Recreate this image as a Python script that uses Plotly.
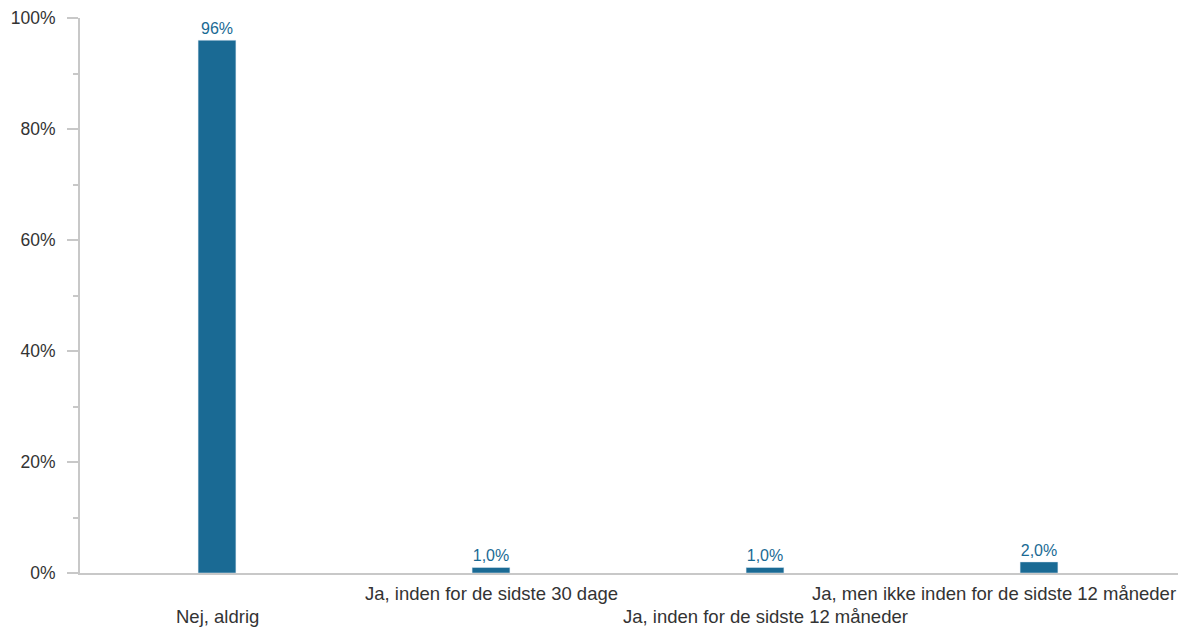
import plotly.graph_objects as go

categories = ["Nej, aldrig", "Ja, inden for de sidste 30 dage",
              "Ja, inden for de sidste 12 måneder", "Ja, men ikke inden for de sidste 12 måneder"]
values = [0.96, 0.01, 0.01, 0.02]
value_labels = ["96%", "1,0%", "1,0%", "2,0%"]
label_row = [1, 0, 1, 0]          # 0 = upper row, 1 = lower row (staggered labels)
label_shift = [0, 0, 0, -45]      # keep the last label inside the canvas

BAR = "#1a6a94"
AXIS = "#c8c8c8"
TEXT = "#333333"
FONT = "Liberation Sans, Arial, sans-serif"

fig = go.Figure(go.Bar(
    x=categories, y=values, text=value_labels, textposition="outside",
    textfont=dict(size=16, color=BAR, family=FONT), marker_color=BAR,
    cliponaxis=False, hoverinfo="skip",
))

for cat, row, sh in zip(categories, label_row, label_shift):
    fig.add_annotation(x=cat, xref="x", y=0, yref="paper", text=cat, showarrow=False,
                       xanchor="center", yanchor="middle", yshift=-20 - 23 * row, xshift=sh,
                       font=dict(size=18.5, color=TEXT, family=FONT))

fig.update_layout(
    width=1189, height=628, margin=dict(l=80, r=11, t=18, b=55),
    plot_bgcolor="white", paper_bgcolor="white", bargap=0.862, showlegend=False,
    font=dict(family=FONT, color=TEXT),
)
fig.update_xaxes(showticklabels=False, showline=True, linecolor=AXIS, linewidth=2,
                 ticks="", showgrid=False, zeroline=False, automargin=False)
fig.update_yaxes(range=[0, 1], tickformat=".0%", dtick=0.2, showline=True, linecolor=AXIS,
                 linewidth=2, ticks="outside", ticklen=11, tickcolor=AXIS, tickwidth=2,
                 minor=dict(dtick=0.1, ticks="outside", ticklen=5, tickcolor=AXIS, tickwidth=2),
                 showgrid=False, zeroline=False, ticklabelstandoff=8, automargin=False,
                 tickfont=dict(size=17.5, color=TEXT, family=FONT))

fig.write_html("out.html", config={"displayModeBar": False},
               post_script="document.body.style.margin='0';document.body.style.overflow='hidden';")
